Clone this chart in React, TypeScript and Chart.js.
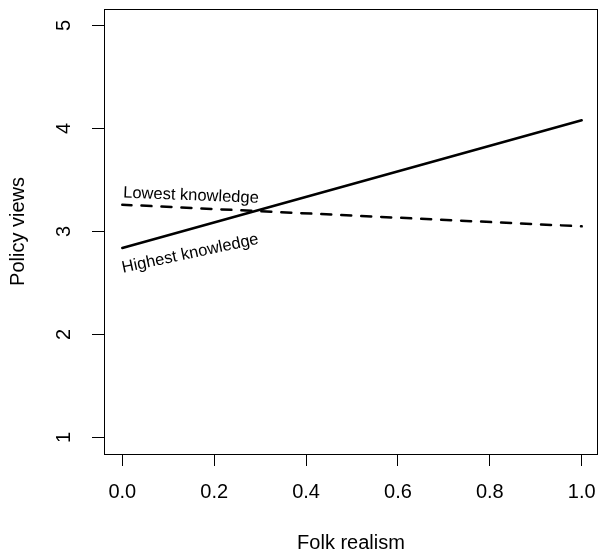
import React, { useEffect, useRef } from "react";
import { Chart, registerables } from "chart.js";

Chart.register(...registerables);

// ---- data ----
const xValues = [0, 1];
const highestKnowledge = [2.84, 4.08];
const lowestKnowledge = [3.26, 3.05];
const xTicks = [0, 0.2, 0.4, 0.6, 0.8, 1.0];
const yTicks = [1, 2, 3, 4, 5];
const seriesNames = ["Highest knowledge", "Lowest knowledge"];
const xTitle = "Folk realism";
const yTitle = "Policy views";

// label anchors (data units) and angles
const labelAnchors = [
  { text: seriesNames[1], x: 0.0015, y: 3.33, angle: 2.3 },
  { text: seriesNames[0], x: 0.0015, y: 2.6, angle: -12 },
];

const FONT = '"Liberation Sans", Arial, Helvetica, sans-serif';

const boxPlugin = {
  id: "boxPlugin",
  afterDraw(chart: any) {
    const { ctx, chartArea } = chart;
    ctx.save();
    ctx.strokeStyle = "#000";
    ctx.lineWidth = 1;
    ctx.strokeRect(
      Math.round(chartArea.left) + 0.5,
      Math.round(chartArea.top) + 0.5,
      Math.round(chartArea.right - chartArea.left) - 1,
      Math.round(chartArea.bottom - chartArea.top)
    );
    ctx.restore();
  },
};

const labelPlugin = {
  id: "labelPlugin",
  afterDatasetsDraw(chart: any) {
    const { ctx, scales } = chart;
    ctx.save();
    ctx.fillStyle = "#000";
    ctx.font = `16.5px ${FONT}`;
    ctx.textAlign = "left";
    ctx.textBaseline = "alphabetic";
    for (const a of labelAnchors) {
      const px = scales.x.getPixelForValue(a.x);
      const py = scales.y.getPixelForValue(a.y);
      ctx.save();
      ctx.translate(px, py);
      ctx.rotate((a.angle * Math.PI) / 180);
      ctx.fillText(a.text, 0, 0);
      ctx.restore();
    }
    ctx.restore();
  },
};

const zeroPad = (s: any) => {
  s.paddingTop = 0;
  s.paddingBottom = 0;
  s.paddingLeft = 0;
  s.paddingRight = 0;
};

export default function App() {
  const ref = useRef<HTMLCanvasElement | null>(null);

  useEffect(() => {
    if (!ref.current) return;
    const font = { family: FONT, size: 20 };
    const chart = new Chart(ref.current, {
      type: "line",
      data: {
        datasets: [
          {
            label: seriesNames[0],
            data: xValues.map((x, i) => ({ x, y: highestKnowledge[i] })),
            borderColor: "#000",
            borderWidth: 2.5,
            borderCapStyle: "round",
            pointRadius: 0,
            fill: false,
            tension: 0,
          },
          {
            label: seriesNames[1],
            data: xValues.map((x, i) => ({ x, y: lowestKnowledge[i] })),
            borderColor: "#000",
            borderWidth: 2.5,
            borderDash: [10, 10],
            borderDashOffset: 0.8,
            borderCapStyle: "round",
            pointRadius: 0,
            fill: false,
            tension: 0,
          },
        ],
      },
      options: {
        animation: false,
        responsive: false,
        devicePixelRatio: 1,
        layout: { padding: { top: 9, right: 1, left: 0, bottom: 0 } },
        plugins: {
          legend: { display: false },
          tooltip: { enabled: false },
        },
        scales: {
          x: {
            type: "linear",
            min: -0.0398,
            max: 1.0355,
            afterBuildTicks: (s: any) => {
              s.ticks = xTicks.map((v) => ({ value: v }));
            },
            afterFit: (s: any) => {
              s.height = 101;
              zeroPad(s);
            },
            grid: {
              display: true,
              drawOnChartArea: false,
              drawTicks: true,
              tickLength: 12,
              color: "#000",
              lineWidth: 1,
            },
            border: { display: false },
            ticks: {
              font,
              color: "#000",
              padding: 14.5,
              autoSkip: false,
              maxRotation: 0,
              minRotation: 0,
              callback: (v: any) => Number(v).toFixed(1),
            },
            title: {
              display: true,
              text: xTitle,
              font,
              color: "#000",
              padding: { top: 0, bottom: 0 },
            },
          },
          y: {
            type: "linear",
            min: 0.84,
            max: 5.16,
            afterBuildTicks: (s: any) => {
              s.ticks = yTicks.map((v) => ({ value: v }));
            },
            afterFit: (s: any) => {
              s.width = 104;
              zeroPad(s);
            },
            grid: {
              display: true,
              drawOnChartArea: false,
              drawTicks: true,
              tickLength: 12,
              color: "#000",
              lineWidth: 1,
            },
            border: { display: false },
            ticks: {
              font,
              color: "#000",
              padding: 22,
              autoSkip: false,
              minRotation: 90,
              maxRotation: 90,
              crossAlign: "center",
              callback: (v: any) => String(v),
            },
            title: {
              display: true,
              text: yTitle,
              font,
              color: "#000",
              padding: { top: 6.5, bottom: 0 },
            },
          },
        },
      } as any,
      plugins: [boxPlugin, labelPlugin],
    });
    return () => chart.destroy();
  }, []);

  return (
    <div style={{ position: "absolute", left: 0, top: 0, width: 599, height: 555, background: "#fff" }}>
      <canvas ref={ref} width={599} height={555} />
    </div>
  );
}
